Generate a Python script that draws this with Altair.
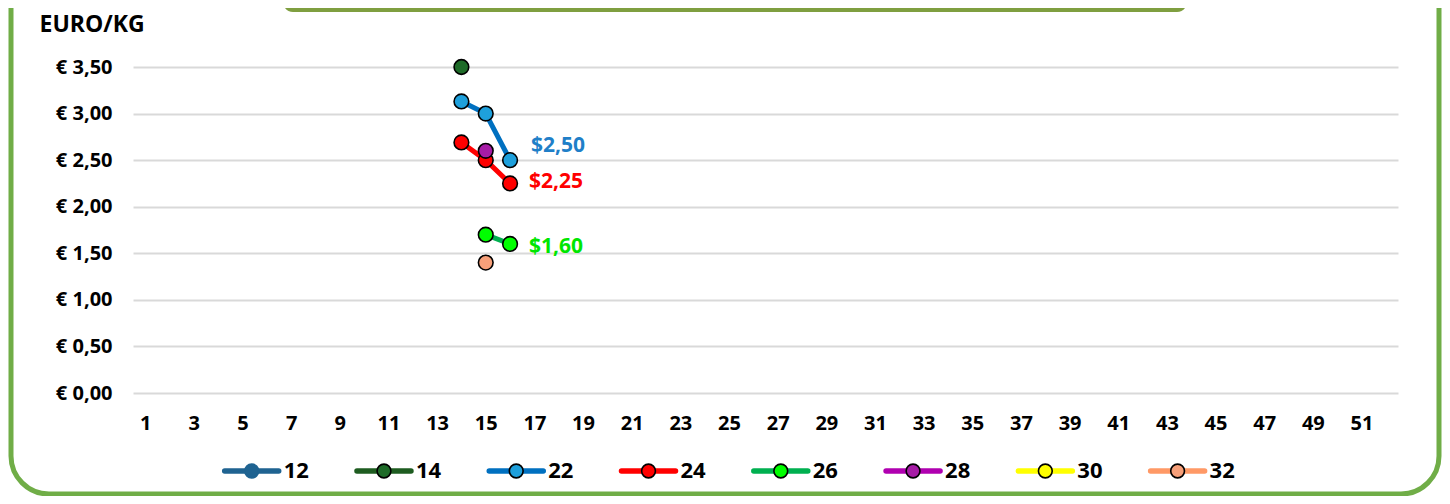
import altair as alt
import pandas as pd

# ---- data -------------------------------------------------------------
series = ["12", "14", "22", "24", "26", "28", "30", "32"]

weeks_12, prices_12 = [], []
weeks_14, prices_14 = [14], [3.50]
weeks_22, prices_22 = [14, 15, 16], [3.13, 3.00, 2.50]
weeks_24, prices_24 = [14, 15, 16], [2.69, 2.50, 2.25]
weeks_26, prices_26 = [15, 16], [1.70, 1.60]
weeks_28, prices_28 = [15], [2.60]
weeks_30, prices_30 = [], []
weeks_32, prices_32 = [15], [1.40]

label_series = ["22", "24", "26"]
label_weeks = [16, 16, 16]
label_prices = [2.50, 2.25, 1.60]
label_texts = ["$2,50", "$2,25", "$1,60"]

y_ticks = [0, 0.5, 1.0, 1.5, 2.0, 2.5, 3.0, 3.5]
x_ticks = list(range(1, 52, 2))

# ---- styles -----------------------------------------------------------
line_colors = ["#1f6391", "#1e5c20", "#0070c0", "#ff0000", "#00b050", "#b000b0", "#ffff00", "#ff9966"]
marker_colors = ["#1f6391", "#1e6b28", "#1ea0dc", "#ff0000", "#00ff00", "#a61ca6", "#ffff00", "#f7a07a"]
marker_edges = ["#1f6391", "#000000", "#000000", "#000000", "#000000", "#000000", "#000000", "#000000"]
label_colors = ["#1f7fc8", "#ff0000", "#00e600"]
label_offsets = [(21, -14), (19, -1), (19, 3)]

FONT = "Open Sans"

all_weeks = [weeks_12, weeks_14, weeks_22, weeks_24, weeks_26, weeks_28, weeks_30, weeks_32]
all_prices = [prices_12, prices_14, prices_22, prices_24, prices_26, prices_28, prices_30, prices_32]

rows = []
for s, ws, ps in zip(series, all_weeks, all_prices):
    for w, p in zip(ws, ps):
        rows.append({"series": s, "week": w, "price": p})
df = pd.DataFrame(rows)

xscale = alt.Scale(domain=[0.5, 52.5], nice=False, zero=False)
yscale = alt.Scale(domain=[0, 3.5], nice=False, zero=True)

x_axis = alt.Axis(values=x_ticks, format="d", grid=False, ticks=False, domain=False,
                  labelPadding=20, labelFontSize=20, labelFont=FONT, labelFontWeight="bold",
                  labelColor="black", title=None, labelFlush=False, labelOverlap=False)
y_axis = alt.Axis(values=y_ticks,
                  labelExpr="'€ ' + replace(format(datum.value, '.2f'), '.', ',')",
                  grid=True, gridColor="#d9d9d9", gridWidth=2, ticks=False, domain=False,
                  labelPadding=21, labelFontSize=20, labelFont=FONT, labelFontWeight="bold",
                  labelColor="black", title="EURO/KG", titleAngle=0, titleAlign="left",
                  titleBaseline="middle", titleX=-94, titleY=-43, titleFont=FONT,
                  titleFontSize=23, titleFontWeight="bold", titleColor="black")

color_scale = alt.Scale(domain=series, range=line_colors)
fill_scale = alt.Scale(domain=series, range=marker_colors)
edge_scale = alt.Scale(domain=series, range=marker_edges)

X = alt.X("week:Q", scale=xscale, axis=x_axis)
Y = alt.Y("price:Q", scale=yscale, axis=y_axis)

lines = alt.Chart(df).mark_line(strokeWidth=5, strokeJoin="round", strokeCap="round").encode(
    x=X, y=Y,
    color=alt.Color("series:N", scale=color_scale, legend=None),
    order="week:Q",
)
points = alt.Chart(df).mark_circle(size=215, opacity=1, stroke="black", strokeWidth=1.6).encode(
    x=X, y=Y,
    fill=alt.Fill("series:N", scale=fill_scale, legend=None),
)

label_layers = []
for s, w, p, t, c, (dx, dy) in zip(label_series, label_weeks, label_prices, label_texts,
                                    label_colors, label_offsets):
    ldf = pd.DataFrame({"week": [w], "price": [p], "text": [t]})
    label_layers.append(
        alt.Chart(ldf).mark_text(align="left", baseline="middle", dx=dx, dy=dy, font=FONT,
                                 fontSize=21, fontWeight="bold", color=c).encode(
            x=X, y=Y, text="text:N")
    )

main = alt.layer(lines, points, *label_layers)

# ---- legend (drawn from the series list) -------------------------------
leg_df = pd.DataFrame({"series": series})
leg_x = alt.X("series:N", scale=alt.Scale(type="point", domain=series, range=[118.7, 1044.6], padding=0),
              axis=None)
leg_y = alt.value(404)
leg_rules = alt.Chart(leg_df).mark_rule(strokeWidth=5.5, strokeCap="round", xOffset=-27, x2Offset=27).encode(
    x=leg_x, x2=alt.X2("series:N"), y=leg_y,
    color=alt.Color("series:N", scale=color_scale, legend=None),
)
leg_pts = alt.Chart(leg_df).mark_circle(size=190, opacity=1, strokeWidth=1.6).encode(
    x=leg_x, y=leg_y,
    fill=alt.Fill("series:N", scale=fill_scale, legend=None),
    stroke=alt.Stroke("series:N", scale=edge_scale, legend=None),
)
leg_txt = alt.Chart(leg_df).mark_text(align="left", baseline="middle", dx=32, font=FONT, fontSize=22,
                                      fontWeight="bold", color="black").encode(
    x=leg_x, y=leg_y, text="series:N")
legend = alt.layer(leg_rules, leg_pts, leg_txt)

# ---- decorative frame ---------------------------------------------------
one = pd.DataFrame({"k": [0]})
frame = alt.Chart(one).mark_rect(fill="transparent", stroke="#70ad47", strokeWidth=5, cornerRadius=38).encode(
    x=alt.value(-122), x2=alt.value(1306), y=alt.value(-110), y2=alt.value(427))
banner = alt.Chart(one).mark_rect(fill="#7f9f40", cornerRadius=10).encode(
    x=alt.value(150), x2=alt.value(1054), y=alt.value(-95), y2=alt.value(-55))

chart = alt.layer(frame, banner, main, legend).resolve_scale(x="independent").properties(
    width=1265, height=326,
    autosize=alt.AutoSizeParams(type="none"),
    padding={"left": 125, "top": 59, "right": 44, "bottom": 103},
).configure_view(strokeWidth=0)

chart.save("out.html", embed_options={"renderer": "svg", "actions": False})
